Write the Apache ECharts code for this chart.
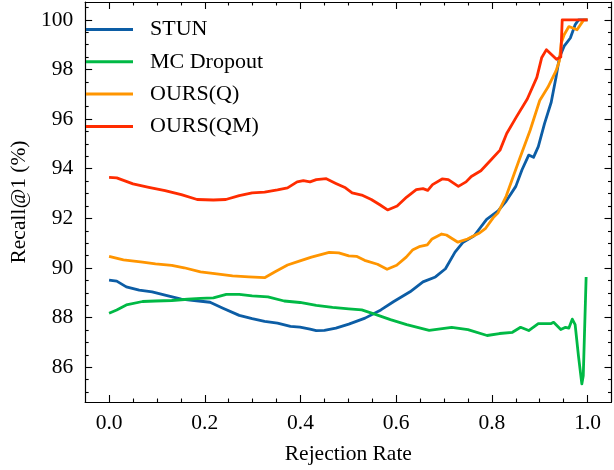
<!DOCTYPE html>
<html>
<head>
<meta charset="utf-8">
<script src="https://cdn.jsdelivr.net/npm/echarts@6/dist/echarts.min.js"></script>
<style>
html,body{margin:0;padding:0;background:#fff;}
#chart{width:614px;height:470px;}
</style>
</head>
<body>
<div id="chart"></div>
<script>
// ---- data ----
const seriesNames = ['STUN', 'MC Dropout', 'OURS(Q)', 'OURS(QM)'];

const stunX = [0, 0.016, 0.036, 0.063, 0.090, 0.117, 0.151, 0.178, 0.211, 0.238, 0.272, 0.299, 0.325, 0.352, 0.379, 0.399, 0.420, 0.433, 0.450, 0.474, 0.501, 0.535, 0.568, 0.595, 0.629, 0.656, 0.682, 0.703, 0.723, 0.740, 0.763, 0.789, 0.813, 0.830, 0.850, 0.863, 0.877, 0.887, 0.897, 0.910, 0.924, 0.934, 0.941, 0.951, 0.964, 0.974, 0.981, 1.0];
const stunY = [89.51, 89.47, 89.24, 89.11, 89.04, 88.91, 88.75, 88.69, 88.62, 88.38, 88.09, 87.96, 87.85, 87.78, 87.65, 87.62, 87.54, 87.48, 87.49, 87.58, 87.74, 87.98, 88.31, 88.65, 89.04, 89.44, 89.64, 89.97, 90.64, 91.04, 91.30, 91.96, 92.30, 92.70, 93.29, 93.96, 94.55, 94.46, 94.89, 95.82, 96.68, 97.68, 98.47, 98.94, 99.27, 99.80, 100, 100];

const mcX = [0, 0.016, 0.036, 0.070, 0.097, 0.131, 0.164, 0.191, 0.218, 0.245, 0.272, 0.299, 0.332, 0.366, 0.399, 0.433, 0.467, 0.501, 0.528, 0.555, 0.588, 0.622, 0.669, 0.716, 0.750, 0.790, 0.816, 0.843, 0.860, 0.877, 0.897, 0.924, 0.929, 0.944, 0.954, 0.961, 0.968, 0.974, 0.981, 0.988, 0.991, 0.997];
const mcY = [88.18, 88.31, 88.51, 88.65, 88.67, 88.69, 88.74, 88.78, 88.80, 88.94, 88.94, 88.88, 88.84, 88.67, 88.61, 88.49, 88.41, 88.35, 88.31, 88.14, 87.92, 87.72, 87.49, 87.61, 87.52, 87.28, 87.36, 87.41, 87.61, 87.48, 87.76, 87.76, 87.81, 87.52, 87.61, 87.58, 87.94, 87.72, 86.45, 85.33, 85.66, 89.64];

const oursQX = [0, 0.030, 0.070, 0.097, 0.131, 0.157, 0.191, 0.225, 0.258, 0.292, 0.325, 0.346, 0.373, 0.399, 0.423, 0.460, 0.480, 0.501, 0.517, 0.534, 0.561, 0.581, 0.601, 0.621, 0.635, 0.648, 0.665, 0.675, 0.695, 0.705, 0.729, 0.749, 0.773, 0.787, 0.803, 0.813, 0.830, 0.857, 0.880, 0.900, 0.917, 0.934, 0.941, 0.945, 0.951, 0.961, 0.978, 0.992, 1.0];
const oursQY = [90.47, 90.33, 90.24, 90.17, 90.11, 90.01, 89.84, 89.76, 89.68, 89.64, 89.61, 89.84, 90.12, 90.29, 90.44, 90.63, 90.61, 90.49, 90.47, 90.31, 90.15, 89.95, 90.11, 90.44, 90.74, 90.86, 90.93, 91.17, 91.37, 91.33, 91.04, 91.17, 91.40, 91.60, 92.03, 92.23, 92.90, 94.35, 95.55, 96.75, 97.28, 97.94, 98.34, 99.07, 99.40, 99.73, 99.60, 100, 100];

const oursQMX = [0, 0.016, 0.050, 0.083, 0.117, 0.151, 0.184, 0.218, 0.244, 0.272, 0.299, 0.325, 0.352, 0.373, 0.393, 0.406, 0.420, 0.433, 0.454, 0.474, 0.494, 0.508, 0.528, 0.548, 0.565, 0.582, 0.602, 0.622, 0.642, 0.656, 0.666, 0.676, 0.696, 0.709, 0.730, 0.746, 0.757, 0.777, 0.797, 0.817, 0.831, 0.851, 0.874, 0.894, 0.904, 0.914, 0.935, 0.944, 0.947, 1.0];
const oursQMY = [93.65, 93.63, 93.39, 93.25, 93.12, 92.96, 92.76, 92.74, 92.76, 92.92, 93.03, 93.06, 93.15, 93.23, 93.47, 93.52, 93.47, 93.56, 93.60, 93.41, 93.23, 93.03, 92.94, 92.76, 92.56, 92.34, 92.50, 92.86, 93.16, 93.20, 93.13, 93.36, 93.59, 93.56, 93.29, 93.47, 93.69, 93.92, 94.33, 94.75, 95.42, 96.08, 96.81, 97.68, 98.47, 98.80, 98.41, 98.50, 100, 100];

const xMajorTicks = [0, 0.2, 0.4, 0.6, 0.8, 1.0];
const xMinorTicks = [0.05, 0.1, 0.15, 0.25, 0.3, 0.35, 0.45, 0.5, 0.55, 0.65, 0.7, 0.75, 0.85, 0.9, 0.95];
const yMajorTicks = [86, 88, 90, 92, 94, 96, 98, 100];
const yMinorTicks = [85, 85.5, 86.5, 87, 87.5, 88.5, 89, 89.5, 90.5, 91, 91.5, 92.5, 93, 93.5, 94.5, 95, 95.5, 96.5, 97, 97.5, 98.5, 99, 99.5, 100.5];

const colors = ['#0C5DA5', '#00B945', '#FF9500', '#FF2C00'];

function pairs(xs, ys) { return xs.map((x, i) => [x, ys[i]]); }

// ---- chart ----
const FONT = 'Liberation Serif';
const FS = 21.5;
const X_MIN = -0.05, X_MAX = 1.05, Y_MIN = 84.6, Y_MAX = 100.72;
const lineCol = '#000';

function xAxisDef(pos, ticks, len, showLine, labels) {
  return {
    type: 'value', position: pos, min: X_MIN, max: X_MAX, gridIndex: 0,
    axisLine: { show: showLine, onZero: false, lineStyle: { color: lineCol, width: 1.2 } },
    axisTick: { show: true, inside: true, length: len, customValues: ticks, lineStyle: { color: lineCol, width: 1.1 } },
    axisLabel: labels ? {
      show: true, customValues: ticks, margin: 10, color: '#000', fontFamily: FONT, fontSize: FS,
      formatter: v => Number(v).toFixed(1)
    } : { show: false },
    splitLine: { show: false }
  };
}
function yAxisDef(pos, ticks, len, showLine, labels) {
  return {
    type: 'value', position: pos, min: Y_MIN, max: Y_MAX, gridIndex: 0,
    axisLine: { show: showLine, onZero: false, lineStyle: { color: lineCol, width: 1.2 } },
    axisTick: { show: true, inside: true, length: len, customValues: ticks, lineStyle: { color: lineCol, width: 1.1 } },
    axisLabel: labels ? {
      show: true, customValues: ticks, margin: 12, color: '#000', fontFamily: FONT, fontSize: FS,
      formatter: v => String(Math.round(v))
    } : { show: false },
    splitLine: { show: false }
  };
}

const xAxes = [
  Object.assign(xAxisDef('bottom', xMajorTicks, 7, true, true), {
    name: 'Rejection Rate', nameLocation: 'middle', nameGap: 41,
    nameTextStyle: { color: '#000', fontFamily: FONT, fontSize: FS }
  }),
  xAxisDef('bottom', xMinorTicks, 3.5, false, false),
  xAxisDef('top', xMajorTicks, 7, true, false),
  xAxisDef('top', xMinorTicks, 3.5, false, false)
];
const yAxes = [
  Object.assign(yAxisDef('left', yMajorTicks, 7, true, true), {
    name: 'Recall@1 (%)', nameLocation: 'middle', nameGap: 45, nameRotate: 90,
    nameTextStyle: { color: '#000', fontFamily: FONT, fontSize: FS }
  }),
  yAxisDef('left', yMinorTicks, 3.5, false, false),
  yAxisDef('right', yMajorTicks, 7, true, false),
  yAxisDef('right', yMinorTicks, 3.5, false, false)
];

const dataSets = [pairs(stunX, stunY), pairs(mcX, mcY), pairs(oursQX, oursQY), pairs(oursQMX, oursQMY)];

const chart = echarts.init(document.getElementById('chart'), null, { renderer: 'canvas' });
chart.setOption({
  animation: false,
  backgroundColor: '#fff',
  grid: { left: 67.5, right: 2.5, top: 2, bottom: 64, containLabel: false },
  xAxis: xAxes,
  yAxis: yAxes,
  legend: {
    orient: 'vertical', left: 81, top: 13.5,
    icon: 'rect', itemWidth: 47, itemHeight: 3, itemGap: 10.3,
    data: seriesNames,
    textStyle: { color: '#000', fontFamily: FONT, fontSize: 22, lineHeight: 21, padding: [0, 0, 0, 12] }
  },
  series: seriesNames.map((n, i) => ({
    name: n, type: 'line', xAxisIndex: 0, yAxisIndex: 0,
    data: dataSets[i], showSymbol: false, symbol: 'none',
    color: colors[i],
    lineStyle: { color: colors[i], width: 2.8, join: 'round' },
    itemStyle: { color: colors[i] },
    z: 2 + i
  }))
});
</script>
</body>
</html>
